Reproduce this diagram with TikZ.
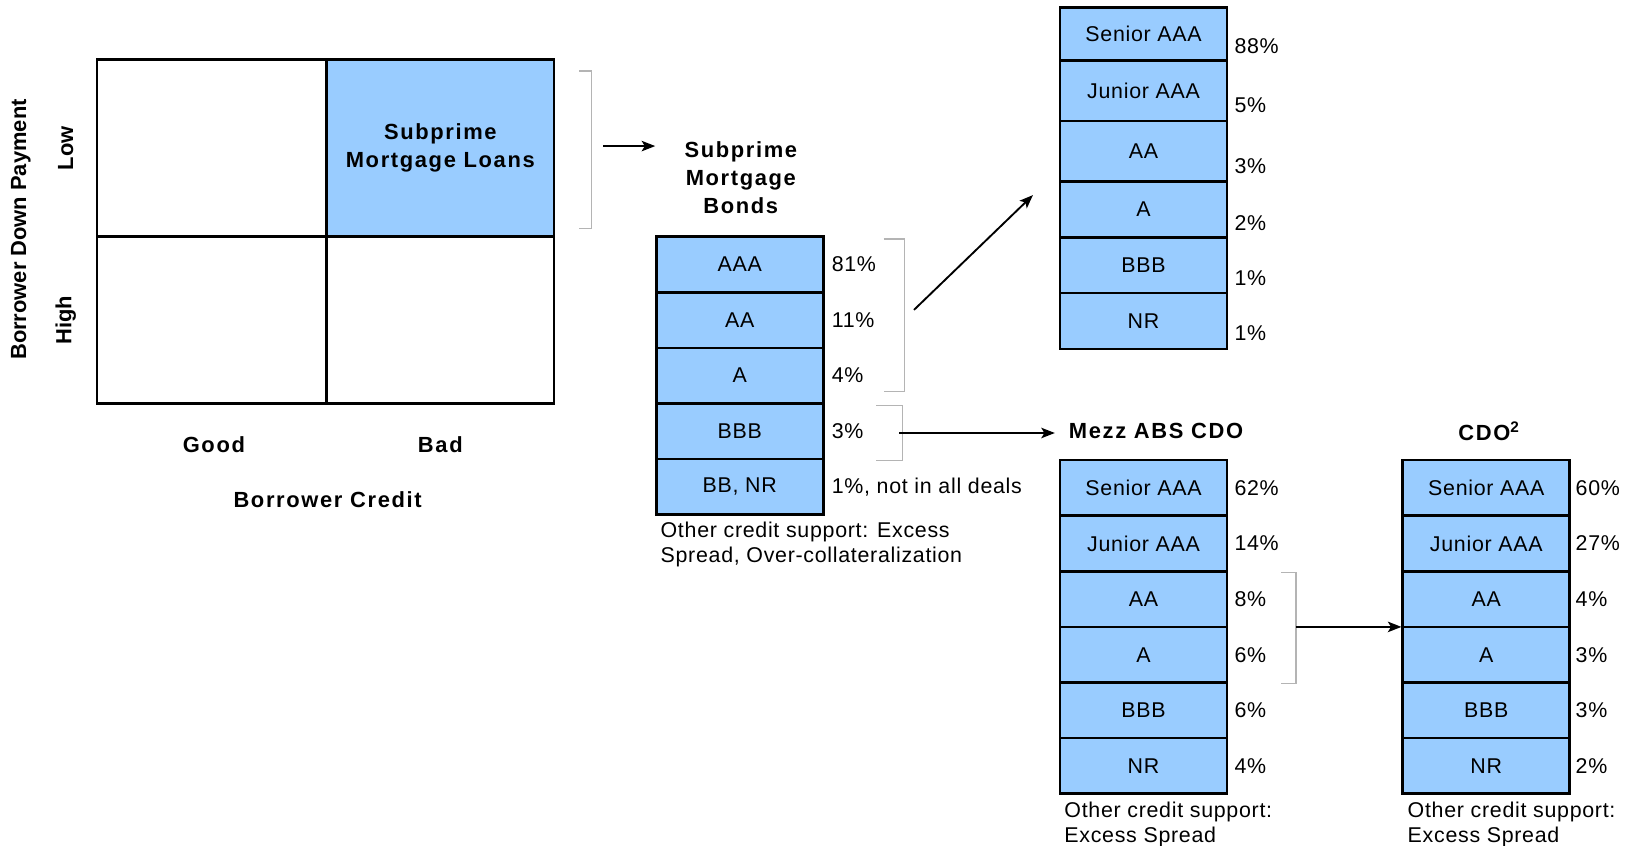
\documentclass[tikz,border=0pt]{standalone}
\usepackage{fontspec}
\setmainfont{Liberation Sans}[LetterSpace=3.3]
\newfontfamily\boldsp{Liberation Sans}[LetterSpace=7.5]
\newfontfamily\plainf{Liberation Sans}
\usetikzlibrary{arrows.meta}
\definecolor{cellblue}{HTML}{99CCFF}
\definecolor{brkgray}{HTML}{B4B4B4}
\newcommand\myreg{\fontsize{20.5}{24}\selectfont}
\newcommand\mybold{\boldsp\fontsize{21}{27}\selectfont\bfseries}
\newcommand\myrot{\plainf\fontsize{21}{27}\selectfont\bfseries}
\begin{document}
\begin{tikzpicture}[x=1pt,y=-1pt,
  quad/.style={draw, line width=2.6pt, inner sep=0pt},
  cell/.style={draw, line width=2.6pt, fill=cellblue, inner sep=0pt, minimum width=160pt, font=\myreg},
  pct/.style={anchor=west, inner sep=0pt, font=\myreg},
  lbl/.style={inner sep=0pt, font=\mybold, align=center},
  rlbl/.style={inner sep=0pt, font=\myrot, rotate=90},
  note/.style={anchor=north west, inner sep=0pt, font=\myreg, align=left},
  brk/.style={draw=brkgray, line width=1.2pt},
  arr/.style={line width=1.8pt, -{Stealth[length=13pt,width=10pt,inset=3pt]}}
]
\useasboundingbox (0,0) rectangle (1568,810);

% ---- 2x2 grid ----
\node[quad, minimum width=220pt, minimum height=170pt] (qTL) at (203,142) {};
\node[quad, minimum width=218pt, minimum height=170pt, fill=cellblue, font=\mybold, align=center] (qTR) at (422,142) {Subprime\\Mortgage Loans};
\node[quad, minimum width=220pt, minimum height=160pt] (qBL) at (203,307) {};
\node[quad, minimum width=218pt, minimum height=160pt] (qBR) at (422,307) {};

\node[rlbl] (low) at (63,142) {Low};
\node[rlbl] (high) at (63,307) {High};
\node[rlbl] (bdp) at (20,220) {Borrower Down Payment};
\node[lbl] (good) at (205,426) {Good};
\node[lbl] (bad) at (422,426) {Bad};
\node[lbl] (bcred) at (314,479) {Borrower Credit};

% bracket + arrow to bonds
\draw[brk] (555,68) -- (567,68) -- (567,219) -- (555,219);
\coordinate (a1s) at (578,140);
\coordinate (a1e) at (628,140);
\draw[arr] (a1s) -- (a1e);

% ---- Subprime Mortgage Bonds ----
\node[lbl] (bondt) at (710,170) {Subprime\\Mortgage\\Bonds};
\node[cell, minimum height=53.2pt] (b1) at (709,253.6) {AAA};
\node[cell, minimum height=53.2pt] (b2) at (709,306.8) {AA};
\node[cell, minimum height=53.2pt] (b3) at (709,360.0) {A};
\node[cell, minimum height=53.2pt] (b4) at (709,413.2) {BBB};
\node[cell, minimum height=53.2pt] (b5) at (709,466.4) {BB, NR};
\node[pct] (bp1) at (797,253.6) {81\%};
\node[pct] (bp2) at (797,306.8) {11\%};
\node[pct] (bp3) at (797,360.0) {4\%};
\node[pct] (bp4) at (797,413.2) {3\%};
\node[pct] (bp5) at (797,466.4) {1\%, not in all deals};
\node[note] (bnote) at (633,500) {Other credit support: Excess\\Spread, Over-collateralization};

\draw[brk] (847,229) -- (867,229) -- (867,375) -- (847,375);
\draw[brk] (840,389) -- (865,389) -- (865,441) -- (840,441);

% ---- top-right CDO stack ----
\node[cell, minimum height=51pt] (t1) at (1096,32.5) {Senior AAA};
\node[cell, minimum height=58pt] (t2) at (1096,87) {Junior AAA};
\node[cell, minimum height=58pt] (t3) at (1096,145) {AA};
\node[cell, minimum height=53.5pt] (t4) at (1096,200.7) {A};
\node[cell, minimum height=53.5pt] (t5) at (1096,254.2) {BBB};
\node[cell, minimum height=53.5pt] (t6) at (1096,307.7) {NR};
\node[pct] (tp1) at (1183,44) {88\%};
\node[pct] (tp2) at (1183,101) {5\%};
\node[pct] (tp3) at (1183,159.7) {3\%};
\node[pct] (tp4) at (1183,213.4) {2\%};
\node[pct] (tp5) at (1183,266.5) {1\%};
\node[pct] (tp6) at (1183,319.3) {1\%};

\coordinate (a2s) at (876,297);
\coordinate (a2e) at (990,187);
\draw[arr] (a2s) -- (a2e);

% ---- Mezz ABS CDO ----
\coordinate (a3s) at (862,415);
\coordinate (a3e) at (1011,415);
\draw[arr] (a3s) -- (a3e);
\node[lbl] (mezzt) at (1108,413) {Mezz ABS CDO};
\node[cell, minimum height=53.3pt] (m1) at (1096,467.6) {Senior AAA};
\node[cell, minimum height=53.3pt] (m2) at (1096,520.9) {Junior AAA};
\node[cell, minimum height=53.3pt] (m3) at (1096,574.2) {AA};
\node[cell, minimum height=53.3pt] (m4) at (1096,627.5) {A};
\node[cell, minimum height=53.3pt] (m5) at (1096,680.8) {BBB};
\node[cell, minimum height=53.3pt] (m6) at (1096,734.1) {NR};
\node[pct] (mp1) at (1183,467.6) {62\%};
\node[pct] (mp2) at (1183,520.9) {14\%};
\node[pct] (mp3) at (1183,574.2) {8\%};
\node[pct] (mp4) at (1183,627.5) {6\%};
\node[pct] (mp5) at (1183,680.8) {6\%};
\node[pct] (mp6) at (1183,734.1) {4\%};
\node[note] (mnote) at (1020,768) {Other credit support:\\Excess Spread};

\draw[brk] (1228,549) -- (1242,549) -- (1242,655) -- (1228,655);

% ---- CDO^2 ----
\node[lbl] (cdot) at (1427,413) {CDO\textsuperscript{2}};
\node[cell, minimum height=53.3pt] (c1) at (1424.5,467.6) {Senior AAA};
\node[cell, minimum height=53.3pt] (c2) at (1424.5,520.9) {Junior AAA};
\node[cell, minimum height=53.3pt] (c3) at (1424.5,574.2) {AA};
\node[cell, minimum height=53.3pt] (c4) at (1424.5,627.5) {A};
\node[cell, minimum height=53.3pt] (c5) at (1424.5,680.8) {BBB};
\node[cell, minimum height=53.3pt] (c6) at (1424.5,734.1) {NR};
\node[pct] (cp1) at (1510,467.6) {60\%};
\node[pct] (cp2) at (1510,520.9) {27\%};
\node[pct] (cp3) at (1510,574.2) {4\%};
\node[pct] (cp4) at (1510,627.5) {3\%};
\node[pct] (cp5) at (1510,680.8) {3\%};
\node[pct] (cp6) at (1510,734.1) {2\%};
\node[note] (cnote) at (1349,768) {Other credit support:\\Excess Spread};

\coordinate (a4s) at (1242,600.85);
\draw[arr] (a4s) -- (a4s -| c4.west);
\end{tikzpicture}
\end{document}
